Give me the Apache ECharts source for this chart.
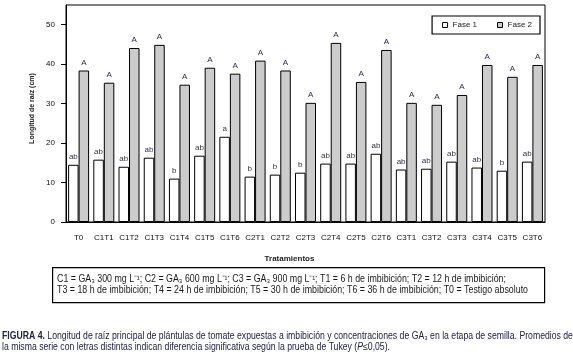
<!DOCTYPE html>
<html>
<head>
<meta charset="utf-8">
<script src="https://cdn.jsdelivr.net/npm/echarts@6/dist/echarts.min.js"></script>
<style>
html,body{margin:0;padding:0;background:#fff}
#main{width:573px;height:355px}
</style>
</head>
<body>
<div id="main"></div>
<script>
var tratamientos = ['T0','C1T1','C1T2','C1T3','C1T4','C1T5','C1T6','C2T1','C2T2','C2T3','C2T4','C2T5','C2T6','C3T1','C3T2','C3T3','C3T4','C3T5','C3T6'];
var fase1 = [14.5,15.8,14.0,16.3,11.0,16.8,21.6,11.5,12.0,12.5,14.8,14.8,17.3,13.3,13.5,15.3,13.8,13.0,15.3];
var fase2 = [38.4,35.3,44.1,44.9,34.8,39.1,37.6,40.9,38.4,30.2,45.4,35.5,43.6,30.2,29.7,32.2,39.8,36.8,39.8];
var letras1 = ['ab','ab','ab','ab','b','ab','a','b','b','b','ab','ab','ab','ab','ab','ab','ab','b','ab'];
var letras2 = ['A','A','A','A','A','A','A','A','A','A','A','A','A','A','A','A','A','A','A'];
var yTicks = [0,10,20,30,40,50];

var fuente = "'Liberation Sans Narrow', 'Liberation Sans', sans-serif";
var chart = echarts.init(document.getElementById('main'));

var option = {
    animation: false,
    textStyle: {fontFamily: fuente},
    grid: {left: 66, top: 5, width: 479, height: 217, show: true, borderColor: '#000', borderWidth: 1},
    legend: {
        right: 33, top: 16,
        padding: [5, 8, 5, 10],
        borderColor: '#000', borderWidth: 1.2,
        itemWidth: 5, itemHeight: 5, itemGap: 20,
        icon: 'rect',
        itemStyle: {borderColor: '#000', borderWidth: 1},
        textStyle: {fontSize: 8, color: '#222', fontFamily: fuente},
        data: ['Fase 1', 'Fase 2']
    },
    xAxis: {
        type: 'category',
        data: tratamientos,
        name: 'Tratamientos',
        nameLocation: 'middle',
        nameGap: 33,
        nameTextStyle: {fontSize: 8, fontWeight: 'bold', color: '#222', padding: [0, 32, 0, 0]},
        axisLine: {lineStyle: {color: '#000', width: 1}},
        axisTick: {length: 5, lineStyle: {color: '#000'}},
        axisLabel: {fontSize: 8, color: '#111', margin: 12, interval: 0}
    },
    yAxis: {
        type: 'value',
        min: 0, max: 55, interval: 10,
        name: 'Longitud de raíz (cm)',
        nameLocation: 'middle',
        nameGap: 30,
        nameTextStyle: {fontSize: 7, fontWeight: 'bold', color: '#222', padding: [0, 0, 0, 10]},
        axisLine: {show: true, lineStyle: {color: '#000', width: 1}},
        axisTick: {show: true, length: 5, customValues: yTicks, lineStyle: {color: '#000'}},
        axisLabel: {fontSize: 8, color: '#111', margin: 11, customValues: yTicks},
        splitLine: {show: false}
    },
    series: [
        {
            name: 'Fase 1', type: 'bar', data: fase1,
            barWidth: 10.5, barGap: '0%',
            itemStyle: {color: '#fff', borderColor: '#000', borderWidth: 1},
            label: {show: true, position: 'top', distance: 4, fontSize: 8, color: '#3a3050',
                formatter: function (p) { return letras1[p.dataIndex]; }}
        },
        {
            name: 'Fase 2', type: 'bar', data: fase2,
            barWidth: 10.5, barGap: '0%',
            itemStyle: {color: '#cccccc', borderColor: '#000', borderWidth: 1},
            label: {show: true, position: 'top', distance: 4, fontSize: 8, color: '#2a2a5a',
                formatter: function (p) { return letras2[p.dataIndex]; }}
        }
    ],
    graphic: [
        {type: 'rect', left: 52, top: 267, shape: {width: 492, height: 35},
            style: {fill: '#fff', stroke: '#000', lineWidth: 1.2}},
        {type: 'text', x: 57, y: 274, scaleX: 0.885, style: {
            text: 'C1 = GA\u2083 300 mg L\u207B\u00B9; C2 = GA\u2083 600 mg L\u207B\u00B9; C3 = GA\u2083 900 mg L\u207B\u00B9; T1 = 6 h de imbibición; T2 = 12 h de imbibición;',
            font: "10px " + fuente, fill: '#1a1a1a'}},
        {type: 'text', x: 57, y: 285, scaleX: 0.885, style: {
            text: 'T3 = 18 h de imbibición; T4 = 24 h de imbibición; T5 = 30 h de imbibición; T6 = 36 h de imbibición; T0 = Testigo absoluto',
            font: "10px " + fuente, fill: '#1a1a1a'}},
        {type: 'text', x: 2, y: 331, scaleX: 0.868, style: {
            text: '{b|FIGURA 4.} Longitud de raíz principal de plántulas de tomate expuestas a imbibición y concentraciones de GA\u2083 en la etapa de semilla. Promedios de\nla misma serie con letras distintas indican diferencia significativa según la prueba de Tukey ({i|P}\u22640,05).',
            font: "10px " + fuente, fill: '#22224a', lineHeight: 11,
            rich: {
                b: {fontWeight: 'bold', fontSize: 10, fontFamily: fuente, fill: '#22224a'},
                i: {fontStyle: 'italic', fontSize: 10, fontFamily: fuente, fill: '#22224a'}
            }}}
    ]
};
chart.setOption(option);
</script>
</body>
</html>
